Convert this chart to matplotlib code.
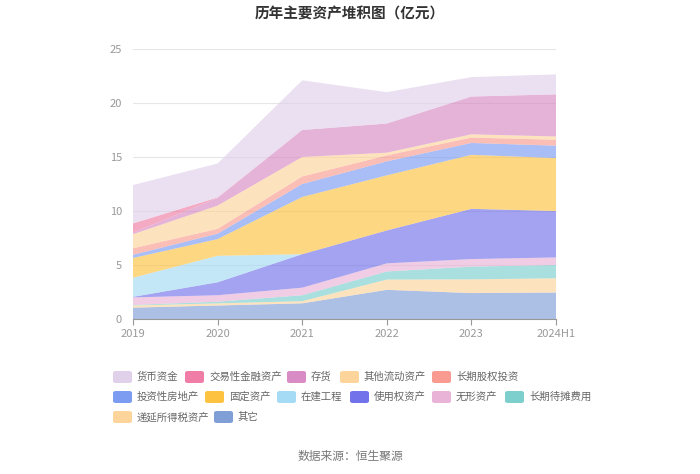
import matplotlib.pyplot as plt
import numpy as np
from matplotlib.patches import FancyBboxPatch

plt.rcParams['font.family'] = ['Noto Sans CJK SC', 'DejaVu Sans']

years = ['2019', '2020', '2021', '2022', '2023', '2024H1']

# 从下到上的堆积顺序 (亿元)
qita     = [1.05, 1.25, 1.45, 2.70, 2.40, 2.45]   # 其它
diyan    = [0.20, 0.20, 0.20, 0.95, 1.27, 1.32]   # 递延所得税资产
daitan   = [0.05, 0.15, 0.55, 0.75, 1.18, 1.23]   # 长期待摊费用
wuxing   = [0.70, 0.60, 0.70, 0.75, 0.70, 0.70]   # 无形资产
shiyong  = [0.05, 1.20, 3.10, 3.05, 4.65, 4.30]   # 使用权资产
zaijian  = [1.77, 2.45, 0.00, 0.00, 0.00, 0.00]   # 在建工程
guding   = [1.83, 1.55, 5.30, 5.10, 5.00, 4.90]   # 固定资产
touzi    = [0.30, 0.50, 1.20, 1.30, 1.10, 1.15]   # 投资性房地产
guquan   = [0.60, 0.45, 0.70, 0.55, 0.50, 0.55]   # 长期股权投资
liudong  = [1.30, 2.15, 1.80, 0.25, 0.30, 0.30]   # 其他流动资产
cunhuo   = [0.15, 0.70, 2.50, 2.70, 3.50, 3.90]   # 存货
jiaoyi   = [0.85, 0.05, 0.00, 0.00, 0.00, 0.00]   # 交易性金融资产
huobi    = [3.55, 3.15, 4.60, 2.90, 1.80, 1.85]   # 货币资金

stack = [qita, diyan, daitan, wuxing, shiyong, zaijian, guding,
         touzi, guquan, liudong, cunhuo, jiaoyi, huobi]
stack_colors = ['#7f9fd6', '#fdd49a', '#7ccfcd', '#e8b3d6', '#7272ea', '#a5dbf4', '#fcc240',
                '#7c9cf2', '#f99b91', '#fdd49a', '#d88bc4', '#f07da5', '#e0d0ea']

legend_names = ['货币资金', '交易性金融资产', '存货', '其他流动资产', '长期股权投资',
                '投资性房地产', '固定资产', '在建工程', '使用权资产', '无形资产', '长期待摊费用',
                '递延所得税资产', '其它']
legend_colors = ['#e0d0ea', '#f07da5', '#d88bc4', '#fdd49a', '#f99b91',
                 '#7c9cf2', '#fcc240', '#a5dbf4', '#7272ea', '#e8b3d6', '#7ccfcd',
                 '#fdd49a', '#7f9fd6']
# 图例位置(像素): 色块左边x, 行y
legend_pos = [(113, 377), (185, 377), (287, 377), (340, 377), (432, 377),
              (113, 397), (205, 397), (277, 397), (350, 397), (432, 397), (505, 397),
              (113, 417), (214, 417)]

W, H = 700, 474
fig = plt.figure(figsize=(7, 4.74), dpi=100)
ax = fig.add_axes([133 / W, 1 - 319 / H, (556 - 133) / W, (319 - 49) / H])

x = np.arange(len(years))
ax.stackplot(x, np.array(stack), colors=stack_colors, alpha=0.65, linewidth=0)

ax.set_xlim(0, len(years) - 1)
ax.set_ylim(0, 25)
ax.set_yticks([0, 5, 10, 15, 20, 25])
ax.set_xticks(x)
ax.set_xticklabels(years)
ax.grid(axis='y', color='#e6e6e6', linewidth=0.8)
ax.set_axisbelow(True)
for s in ['top', 'right', 'left']:
    ax.spines[s].set_visible(False)
ax.spines['bottom'].set_color('#999999')
ax.tick_params(axis='y', length=0, labelcolor='#999999', labelsize=8, pad=8)
ax.tick_params(axis='x', length=4, color='#999999', labelcolor='#999999', labelsize=8)

fig.text(0.5, 1 - 13 / H, '历年主要资产堆积图（亿元）', ha='center', va='center',
         fontsize=10.5, fontweight='bold', color='#333333')

for name, col, (px, py) in zip(legend_names, legend_colors, legend_pos):
    p = FancyBboxPatch((px / W, 1 - (py + 6) / H), 19 / W, 12 / H,
                       boxstyle='round,pad=0,rounding_size=0.004',
                       transform=fig.transFigure, facecolor=col, edgecolor='none')
    fig.patches.append(p)
    fig.text((px + 24) / W, 1 - py / H, name, ha='left', va='center',
             fontsize=7.5, color='#666666')

fig.text(0.5, 1 - 456 / H, '数据来源：恒生聚源', ha='center', va='center',
         fontsize=8.5, color='#777777')

fig.savefig('out.png', dpi=100)
